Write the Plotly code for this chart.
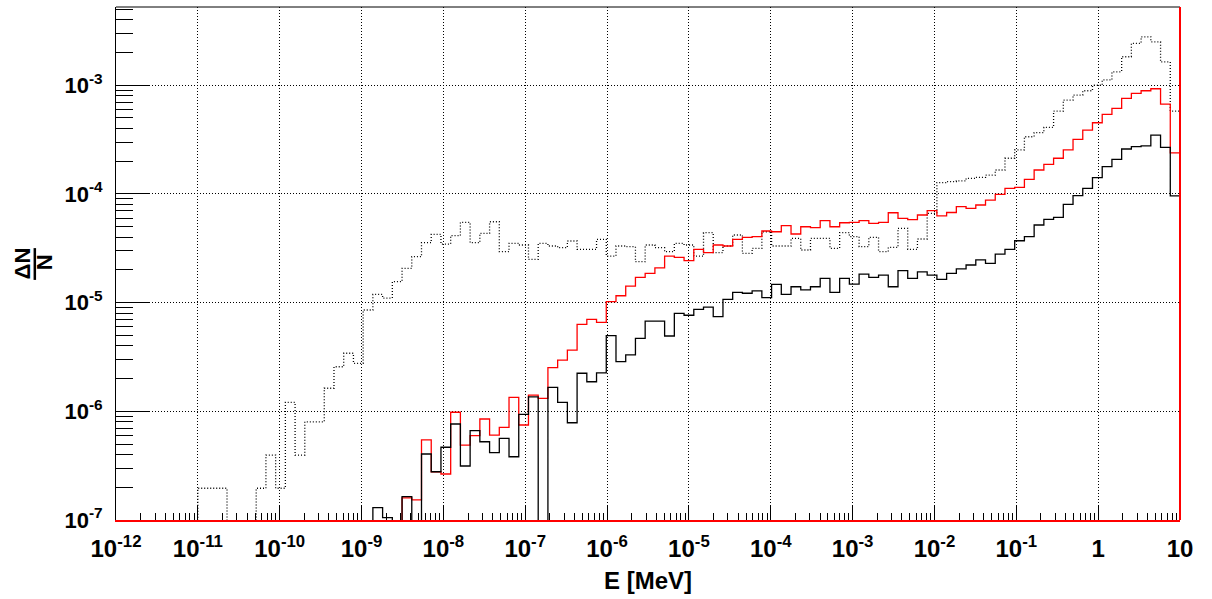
import numpy as np
import plotly.graph_objects as go

# ---------------------------------------------------------------------------
# Binning: 101 log-uniform bins from 1e-11 MeV to 10 MeV, plus empty bins
# continuing below 1e-11 down to the left edge of the axis.
# ---------------------------------------------------------------------------
LOG_E_LOW = -11.0
LOG_E_HIGH = 1.0
N_BINS = 101
N_PAD = 9

# dN/N per bin (dotted black histogram)
dotted_vals = [
    1.96e-7, 1.96e-7, 1.96e-7, 0, 0, 0, 1.96e-7, 3.96e-7, 1.96e-7, 1.21e-6,
    3.96e-7, 8.0e-7, 8.0e-7, 1.63e-6, 2.57e-6, 3.42e-6, 2.76e-6, 8.55e-6, 1.19e-5, 1.10e-5,
    1.56e-5, 2.07e-5, 2.65e-5, 3.56e-5, 4.25e-5, 3.46e-5, 4.13e-5, 5.48e-5, 3.56e-5, 4.34e-5,
    5.55e-5, 2.94e-5, 3.51e-5, 3.39e-5, 2.50e-5, 3.51e-5, 3.32e-5, 3.20e-5, 3.69e-5, 3.09e-5,
    3.09e-5, 3.82e-5, 2.68e-5, 3.32e-5, 3.27e-5, 2.38e-5, 3.39e-5, 3.20e-5, 2.94e-5, 3.51e-5,
    3.39e-5, 2.68e-5, 4.40e-5, 2.88e-5, 3.32e-5, 4.19e-5, 2.84e-5, 3.16e-5, 4.49e-5, 3.32e-5,
    3.32e-5, 3.90e-5, 3.05e-5, 3.90e-5, 3.90e-5, 3.16e-5, 4.40e-5, 4.05e-5, 3.27e-5, 3.99e-5,
    2.94e-5, 3.22e-5, 4.83e-5, 3.09e-5, 3.85e-5, 6.63e-5, 1.27e-4, 1.30e-4, 1.32e-4, 1.39e-4,
    1.42e-4, 1.49e-4, 1.66e-4, 2.13e-4, 2.54e-4, 3.36e-4, 3.66e-4, 4.10e-4, 5.79e-4, 7.31e-4,
    8.13e-4, 8.90e-4, 1.00e-3, 1.12e-3, 1.33e-3, 1.83e-3, 2.43e-3, 2.79e-3, 2.51e-3, 1.64e-3,
    5.79e-4,
]

# dN/N per bin (red histogram)
red_vals = [
    0, 0, 0, 0, 0, 0, 0, 0, 0, 0,
    0, 0, 0, 0, 0, 0, 0, 0, 0, 0,
    0, 1.60e-7, 1.53e-7, 5.45e-7, 2.78e-7, 2.65e-7, 9.8e-7, 4.88e-7, 5.97e-7, 8.5e-7,
    6.05e-7, 7.13e-7, 1.345e-6, 7.48e-7, 1.41e-6, 1.317e-6, 2.52e-6, 2.96e-6, 3.66e-6, 6.31e-6,
    7.02e-6, 6.59e-6, 1.02e-5, 1.157e-5, 1.42e-5, 1.71e-5, 1.86e-5, 2.09e-5, 2.68e-5, 2.61e-5,
    2.43e-5, 3.09e-5, 2.88e-5, 3.39e-5, 3.32e-5, 3.82e-5, 3.99e-5, 4.05e-5, 4.56e-5, 4.49e-5,
    5.10e-5, 4.28e-5, 4.99e-5, 4.89e-5, 5.67e-5, 4.99e-5, 5.43e-5, 5.47e-5, 5.67e-5, 5.36e-5,
    5.47e-5, 6.71e-5, 5.96e-5, 5.81e-5, 6.40e-5, 7.01e-5, 6.29e-5, 6.75e-5, 7.63e-5, 7.37e-5,
    7.91e-5, 8.79e-5, 9.92e-5, 1.126e-4, 1.15e-4, 1.36e-4, 1.66e-4, 1.87e-4, 2.13e-4, 2.54e-4,
    3.18e-4, 3.87e-4, 4.52e-4, 5.40e-4, 6.13e-4, 7.57e-4, 8.42e-4, 8.90e-4, 9.29e-4, 6.71e-4,
    2.39e-4,
]

# dN/N per bin (solid black histogram)
black_vals = [
    0, 0, 0, 0, 0, 0, 0, 0, 0, 0,
    0, 0, 0, 0, 0, 0, 0, 0, 1.30e-7, 1.05e-7,
    0, 1.64e-7, 0, 4.05e-7, 2.78e-7, 4.67e-7, 7.64e-7, 3.14e-7, 6.63e-7, 5.25e-7,
    4.16e-7, 5.64e-7, 3.82e-7, 9.38e-7, 1.36e-6, 0, 1.66e-6, 1.21e-6, 7.85e-7, 2.24e-6,
    1.87e-6, 2.26e-6, 4.96e-6, 2.86e-6, 3.30e-6, 4.69e-6, 6.77e-6, 6.77e-6, 4.93e-6, 7.97e-6,
    7.65e-6, 8.68e-6, 9.10e-6, 7.42e-6, 1.07e-5, 1.244e-5, 1.22e-5, 1.28e-5, 1.11e-5, 1.47e-5,
    1.19e-5, 1.40e-5, 1.31e-5, 1.40e-5, 1.67e-5, 1.244e-5, 1.67e-5, 1.48e-5, 1.83e-5, 1.71e-5,
    1.79e-5, 1.40e-5, 1.97e-5, 1.67e-5, 1.92e-5, 1.79e-5, 1.64e-5, 1.86e-5, 2.04e-5, 2.22e-5,
    2.47e-5, 2.30e-5, 2.80e-5, 3.09e-5, 3.71e-5, 4.05e-5, 5.18e-5, 5.84e-5, 6.09e-5, 8.02e-5,
    9.63e-5, 1.126e-4, 1.41e-4, 1.78e-4, 2.08e-4, 2.59e-4, 2.72e-4, 2.77e-4, 3.48e-4, 2.68e-4,
    9.6e-5,
]

# Axis ranges (log10) and tick labels
X_LOG_RANGE = [-12, 1]
Y_LOG_RANGE = [-7, -2.28]
x_tick_vals = [10.0 ** p for p in range(-12, 2)]
x_tick_text = ["10<sup>-%d</sup>" % p for p in range(12, 0, -1)] + ["1", "10"]
y_tick_vals = [10.0 ** p for p in range(-7, -2)]
y_tick_text = ["10<sup>-%d</sup>" % p for p in range(7, 2, -1)]

# Empty bins are drawn below the visible floor of the log axis
ZERO_LEVEL = 10.0 ** (Y_LOG_RANGE[0] - 0.5)

bin_w = (LOG_E_HIGH - LOG_E_LOW) / N_BINS
log_edges = LOG_E_LOW + bin_w * np.arange(-N_PAD, N_BINS + 1)
edges = 10.0 ** log_edges


def step_xy(values):
    v = np.concatenate([np.zeros(N_PAD), np.asarray(values, dtype=float)])
    v = np.where(v > 0, v, ZERO_LEVEL)
    x = np.concatenate([edges, [edges[-1]]])
    y = np.concatenate([v, [v[-1], ZERO_LEVEL]])
    return x, y


fig = go.Figure()

for vals, color, dash in [
    (dotted_vals, "black", "1px,2px"),
    (red_vals, "#ff0000", "solid"),
    (black_vals, "black", "solid"),
]:
    x, y = step_xy(vals)
    fig.add_trace(go.Scatter(
        x=x, y=y, mode="lines", line_shape="hv",
        line=dict(color=color, width=1.3, dash=dash),
        hoverinfo="skip",
    ))

FONT = "Liberation Sans, Arial, Helvetica, sans-serif"

fig.update_xaxes(
    type="log", range=X_LOG_RANGE,
    tickmode="array", tickvals=x_tick_vals, ticktext=x_tick_text,
    ticks="inside", ticklen=14, tickwidth=1, tickcolor="black",
    minor=dict(ticks="inside", ticklen=7, tickwidth=1, tickcolor="black",
               dtick="D1", showgrid=False),
    showgrid=True, gridcolor="black", gridwidth=1, griddash="1px,2px",
    showline=True, linecolor="#ff0000", linewidth=2, mirror=False,
    zeroline=False,
    tickfont=dict(family=FONT, size=24, color="black", weight="bold"),
    ticklabelstandoff=6,
    title=dict(text="<b>E [MeV]</b>", font=dict(family=FONT, size=24, color="black"),
               standoff=11),
)
fig.update_yaxes(
    type="log", range=Y_LOG_RANGE,
    tickmode="array", tickvals=y_tick_vals, ticktext=y_tick_text,
    ticks="inside", ticklen=33, tickwidth=1, tickcolor="black",
    minor=dict(ticks="inside", ticklen=17, tickwidth=1, tickcolor="black",
               dtick="D1", showgrid=False),
    showgrid=True, gridcolor="black", gridwidth=1, griddash="1px,2px",
    showline=True, linecolor="black", linewidth=1, mirror=False,
    zeroline=False,
    tickfont=dict(family=FONT, size=22, color="black", weight="bold"),
    ticklabelstandoff=8,
)

# Frame: black top edge, red right edge
fig.add_shape(type="line", xref="paper", yref="paper", x0=0, x1=1, y0=1, y1=1,
              line=dict(color="black", width=1))
fig.add_shape(type="line", xref="paper", yref="paper", x0=1, x1=1, y0=0, y1=1,
              line=dict(color="#ff0000", width=2))

# Y-axis title as a stacked fraction dN / N
fig.add_annotation(text="<b>\u0394N</b>", xref="paper", yref="paper",
                   x=-0.0875, y=0.50, textangle=-90, showarrow=False,
                   xanchor="center", yanchor="middle",
                   font=dict(family=FONT, size=22, color="black"))
fig.add_annotation(text="<b>N</b>", xref="paper", yref="paper",
                   x=-0.0665, y=0.503, textangle=-90, showarrow=False,
                   xanchor="center", yanchor="middle",
                   font=dict(family=FONT, size=22, color="black"))
fig.add_shape(type="line", xref="paper", yref="paper",
              x0=-0.0763, x1=-0.0763, y0=0.468, y1=0.530,
              line=dict(color="black", width=2.5))

fig.update_layout(
    width=1212, height=599,
    margin=dict(l=116, r=32, t=7, b=79),
    paper_bgcolor="white", plot_bgcolor="white",
    showlegend=False,
)

fig.write_html("out.html", config={"displayModeBar": False})
